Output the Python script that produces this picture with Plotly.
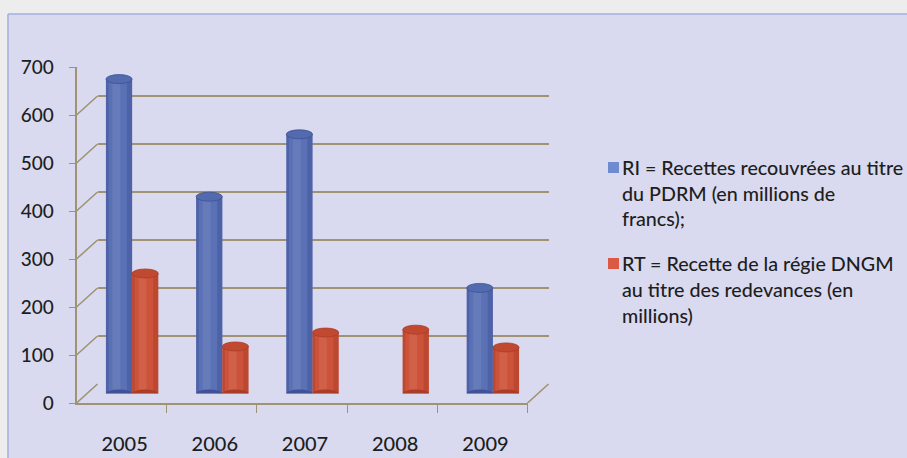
import plotly.graph_objects as go

# ---- data ---------------------------------------------------------------
years = [2005, 2006, 2007, 2008, 2009]
ri_values = [655, 410, 540, None, 220]   # RI, millions de francs
rt_values = [250, 98, 127, 133, 96]      # RT, millions
y_ticks = [0, 100, 200, 300, 400, 500, 600, 700]
ri_label = ["RI = Recettes recouvrées au titre", "du PDRM (en millions de", "francs);"]
rt_label = ["RT = Recette de la régie DNGM", "au titre des redevances (en", "millions)"]

# ---- styling ------------------------------------------------------------
W, H = 907, 458
FONT = "Lato"
TXT = "#1e1e1e"
GRID = "#a09374"
BLUE, BLUE_DARK, BLUE_CAP = "#5a71b5", "#405197", "#526aae"
RED, RED_DARK, RED_CAP = "#cc5339", "#ab3c27", "#c0492f"
BAR_W = 0.29


def fx(p):
    return p / W


def fy(p):
    return 1 - p / H


fig = go.Figure()

# invisible traces so the wall / front subplots exist
fig.add_scatter(x=[None], y=[None], xaxis="x", yaxis="y", showlegend=False, hoverinfo="skip")
fig.add_scatter(x=[None], y=[None], xaxis="x2", yaxis="y2", showlegend=False, hoverinfo="skip")

# the cylinders, drawn in the middle plane
fig.add_bar(x=years, y=ri_values, width=BAR_W, offset=-BAR_W, marker_color=BLUE,
            marker_line_width=0, xaxis="x3", yaxis="y3", name="RI", showlegend=False)
fig.add_bar(x=years, y=rt_values, width=BAR_W, offset=0, marker_color=RED,
            marker_line_width=0, xaxis="x3", yaxis="y3", name="RT", showlegend=False)

shapes = []


def cylinder(x_left, value, dark, cap):
    """Shading strips and elliptical ends for one bar."""
    x_right = x_left + BAR_W
    common = dict(xref="x3", yref="y3", layer="above")
    shapes.append(dict(type="rect", x0=x_left + BAR_W * 0.25, x1=x_left + BAR_W * 0.55,
                       y0=0, y1=value, fillcolor="white", opacity=0.08, line_width=0, **common))
    shapes.append(dict(type="rect", x0=x_left, x1=x_left + BAR_W * 0.1,
                       y0=0, y1=value, fillcolor=dark, opacity=0.45, line_width=0, **common))
    shapes.append(dict(type="rect", x0=x_left + BAR_W * 0.8, x1=x_right,
                       y0=0, y1=value, fillcolor=dark, opacity=0.45, line_width=0, **common))
    # bottom end
    shapes.append(dict(type="circle", x0=x_left, x1=x_right, ysizemode="pixel", yanchor=0,
                       y0=-4, y1=4, fillcolor=dark, line_width=0, **common))
    # top end
    shapes.append(dict(type="circle", x0=x_left, x1=x_right, ysizemode="pixel", yanchor=value,
                       y0=-4.5, y1=4.5, fillcolor=cap, line=dict(color=dark, width=0.8), **common))


for yr, v in zip(years, ri_values):
    if v:
        cylinder(yr - BAR_W, v, BLUE_DARK, BLUE_CAP)
for yr, v in zip(years, rt_values):
    if v:
        cylinder(yr, v, RED_DARK, RED_CAP)

# depth connectors from the front axis to the back wall
for v in y_ticks:
    shapes.append(dict(type="line", xref="paper", yref="y2", xsizemode="pixel", ysizemode="pixel",
                       xanchor=fx(76.5), yanchor=v, x0=0, x1=21, y0=0, y1=19,
                       line=dict(color=GRID, width=1.6)))
# right edge of the floor
shapes.append(dict(type="line", xref="paper", yref="y2", xsizemode="pixel", ysizemode="pixel",
                   xanchor=fx(527.5), yanchor=0, x0=0, x1=21, y0=0, y1=19,
                   line=dict(color=GRID, width=1.6)))

# lighter margin around the chart frame and the frame edge
shapes.append(dict(type="rect", xref="paper", yref="paper", x0=0, x1=1, y0=fy(14), y1=1,
                   fillcolor="#ededee", line_width=0, layer="above"))
shapes.append(dict(type="rect", xref="paper", yref="paper", x0=0, x1=fx(8), y0=0, y1=1,
                   fillcolor="#ededee", line_width=0, layer="above"))
shapes.append(dict(type="line", xref="paper", yref="paper", x0=fx(8), x1=1, y0=fy(14), y1=fy(14),
                   line=dict(color="#a3afdc", width=1.5), layer="above"))
shapes.append(dict(type="line", xref="paper", yref="paper", x0=fx(8), x1=fx(8), y0=0, y1=fy(14),
                   line=dict(color="#a3afdc", width=1.5), layer="above"))

# legend swatches
for top, col in [(162, "#6f8bd0"), (258, "#dc5a44")]:
    shapes.append(dict(type="rect", xref="paper", yref="paper", x0=fx(608), x1=fx(619),
                       y0=fy(top + 11), y1=fy(top), fillcolor=col, line_width=0))

annotations = []
for lines, centres in [(ri_label, [167, 193, 218]), (rt_label, [263, 289, 315])]:
    for text, yc in zip(lines, centres):
        annotations.append(dict(text=text, xref="paper", yref="paper", x=fx(620), y=fy(yc),
                                xanchor="left", yanchor="middle", showarrow=False,
                                font=dict(family=FONT, size=19.7, color=TXT, weight=500)))

hidden = dict(visible=False, fixedrange=True, automargin=False)
fig.update_layout(
    width=W, height=H, margin=dict(l=0, r=0, t=0, b=0, autoexpand=False),
    paper_bgcolor="#d9daef", plot_bgcolor="rgba(0,0,0,0)",
    barmode="overlay", showlegend=False,
    # back wall grid
    xaxis=dict(domain=[fx(97.5), fx(548.5)], range=[0, 1], anchor="y", **hidden),
    yaxis=dict(domain=[fy(384), fy(48)], range=[0, 700], anchor="x", tickvals=y_ticks,
               showgrid=True, gridcolor=GRID, gridwidth=1.6, zeroline=False,
               showticklabels=False, showline=False, ticks="", fixedrange=True,
               automargin=False),
    # front axes
    xaxis2=dict(domain=[fx(76.5), fx(527.5)], range=[2004.5, 2009.5], anchor="y2",
                tickvals=years, ticktext=[str(y) for y in years], ticks="",
                showline=True, linecolor=GRID, linewidth=1.6, showgrid=False, zeroline=False,
                minor=dict(tickvals=[y + 0.5 for y in years], ticks="outside", ticklen=8,
                           tickcolor=GRID, tickwidth=1.4, showgrid=False),
                tickfont=dict(family=FONT, size=20, color=TXT, weight=500),
                ticklabelstandoff=22, ticklabelshift=3, fixedrange=True, automargin=False),
    yaxis2=dict(domain=[fy(403), fy(67)], range=[0, 700], anchor="x2", tickvals=y_ticks,
                showline=True, linecolor=GRID, linewidth=1.6, ticks="outside", ticklen=6,
                tickcolor=GRID, tickwidth=1.4, showgrid=False, zeroline=False,
                tickfont=dict(family=FONT, size=19, color=TXT, weight=500),
                ticklabelstandoff=11, fixedrange=True, automargin=False),
    # middle plane for the bars
    xaxis3=dict(domain=[fx(87), fx(538)], range=[2004.5, 2009.5], anchor="y3", **hidden),
    yaxis3=dict(domain=[fy(393.5), fy(57.5)], range=[0, 700], anchor="x3", **hidden),
    shapes=shapes, annotations=annotations,
)

fig.write_html("out.html")
